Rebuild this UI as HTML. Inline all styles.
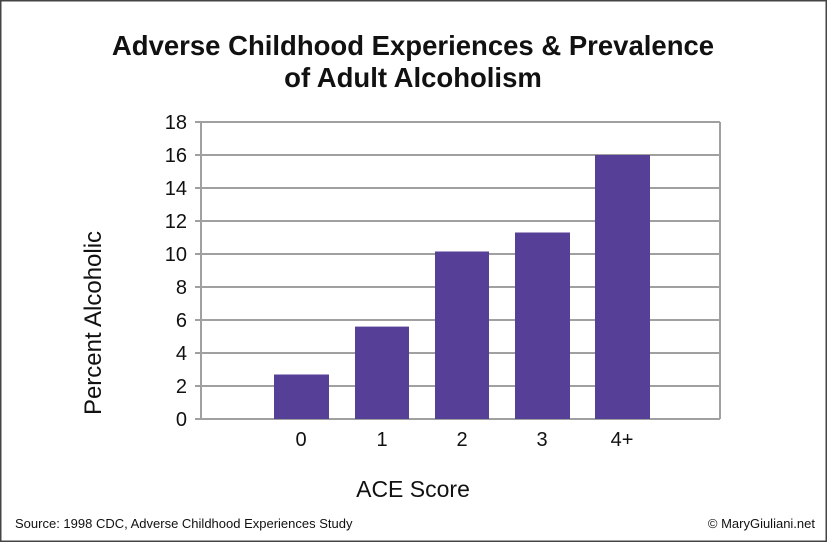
<!DOCTYPE html>
<html><head><style>
html,body{margin:0;padding:0;background:#fff}
svg{display:block}
text{font-family:"Liberation Sans",sans-serif}
</style></head><body>
<svg width="827" height="542" viewBox="0 0 827 542" xmlns="http://www.w3.org/2000/svg">
<rect x="0.75" y="0.75" width="825.5" height="540.5" fill="#fff" stroke="#444" stroke-width="1.5"/>
<text x="413" y="55" text-anchor="middle" font-size="27.5" font-weight="bold" fill="#111">Adverse Childhood Experiences &amp; Prevalence</text>
<text x="413" y="87" text-anchor="middle" font-size="27.5" font-weight="bold" fill="#111">of Adult Alcoholism</text>
<g stroke="#a0a0a0" stroke-width="2">
<line x1="195" y1="122" x2="720" y2="122"/>
<line x1="195" y1="155" x2="720" y2="155"/>
<line x1="195" y1="188" x2="720" y2="188"/>
<line x1="195" y1="221" x2="720" y2="221"/>
<line x1="195" y1="254" x2="720" y2="254"/>
<line x1="195" y1="287" x2="720" y2="287"/>
<line x1="195" y1="320" x2="720" y2="320"/>
<line x1="195" y1="353" x2="720" y2="353"/>
<line x1="195" y1="386" x2="720" y2="386"/>
<line x1="195" y1="419" x2="720" y2="419"/>
<line x1="201" y1="122" x2="201" y2="419"/>
<line x1="720" y1="122" x2="720" y2="419"/>
</g>
<g fill="#553f97">
<rect x="274" y="374.5" width="55" height="44.5"/>
<rect x="355" y="326.6" width="54" height="92.4"/>
<rect x="435" y="251.5" width="54" height="167.5"/>
<rect x="515" y="232.5" width="55" height="186.5"/>
<rect x="595" y="155" width="55" height="264"/>
</g>
<g font-size="20" fill="#111" text-anchor="end">
<text x="187" y="129">18</text><text x="187" y="162">16</text><text x="187" y="195">14</text>
<text x="187" y="228">12</text><text x="187" y="261">10</text><text x="187" y="294">8</text>
<text x="187" y="327">6</text><text x="187" y="360">4</text><text x="187" y="393">2</text>
<text x="187" y="426">0</text>
</g>
<g font-size="20" fill="#111" text-anchor="middle">
<text x="301" y="446">0</text><text x="382" y="446">1</text><text x="462" y="446">2</text>
<text x="542" y="446">3</text><text x="622" y="446">4+</text>
</g>
<text x="0" y="0" transform="translate(101,323) rotate(-90)" text-anchor="middle" font-size="24" fill="#111">Percent Alcoholic</text>
<text x="413" y="497" text-anchor="middle" font-size="23" fill="#111">ACE Score</text>
<text x="15" y="528" font-size="13" fill="#111">Source: 1998 CDC, Adverse Childhood Experiences Study</text>
<text x="815" y="528" text-anchor="end" font-size="13" fill="#111">© MaryGiuliani.net</text>
</svg>
</body></html>
